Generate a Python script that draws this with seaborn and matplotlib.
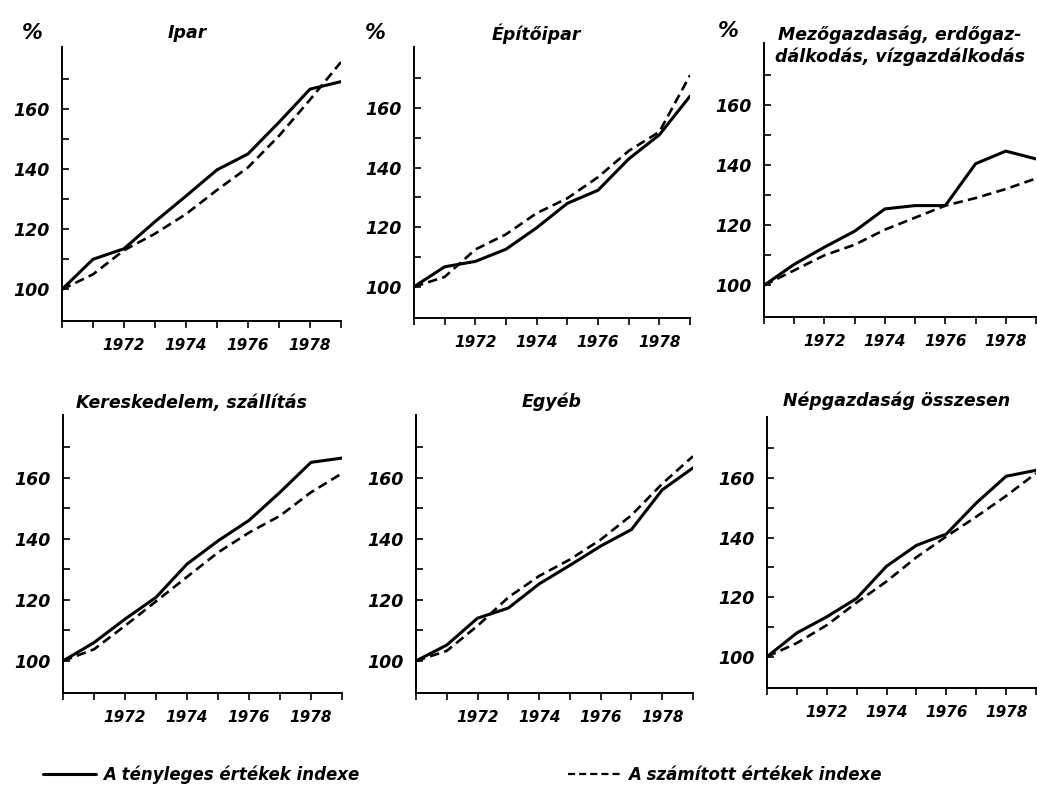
import matplotlib
matplotlib.use("Agg")
import matplotlib.pyplot as plt
from matplotlib.lines import Line2D
from matplotlib.ticker import MultipleLocator, FixedLocator
import seaborn as sns
import pandas as pd

years = [1970, 1971, 1972, 1973, 1974, 1975, 1976, 1977, 1978, 1979]

titles = ["Ipar", "Építőipar", "Mezőgazdaság, erdőgaz-\ndálkodás, vízgazdálkodás",
          "Kereskedelem, szállítás", "Egyéb", "Népgazdaság összesen"]

ipar_actual = [100, 110, 113.5, 122.5, 131, 139.7, 145, 155.5, 166.5, 169]
ipar_calc = [100, 105, 113, 118.5, 125, 133, 140.5, 151, 163, 175.5]

epito_actual = [100, 106.7, 108.5, 112.6, 119.8, 128, 132.4, 142.9, 151, 164]
epito_calc = [100, 103.3, 112.5, 117.6, 124.7, 129.7, 136.8, 145.6, 152, 171]

mezo_actual = [100, 107, 112.7, 118, 125.4, 126.5, 126.5, 140.4, 144.6, 142]
mezo_calc = [100, 105, 110, 113.5, 118.5, 122.5, 126.5, 129, 132, 135.5]

keres_actual = [100, 106, 113.7, 120.8, 131.7, 139.3, 146, 155.2, 165, 166.4]
keres_calc = [100, 103.8, 111.5, 119.5, 127.5, 135.5, 142, 147.5, 155.2, 161.4]

egyeb_actual = [100, 105.2, 114, 117.3, 125.2, 131.3, 137.6, 143, 156, 163.2]
egyeb_calc = [100, 103.3, 111.5, 120.8, 127.8, 133.2, 139.7, 147.7, 158, 167]

nepg_actual = [100, 108, 113.4, 119.6, 130.4, 137.4, 141.2, 151.6, 160.6, 162.6]
nepg_calc = [100, 104.6, 110.6, 118.2, 125.3, 133.4, 140.4, 147, 154, 161.6]

actual_series = [ipar_actual, epito_actual, mezo_actual, keres_actual, egyeb_actual, nepg_actual]
calc_series = [ipar_calc, epito_calc, mezo_calc, keres_calc, egyeb_calc, nepg_calc]

major_years = [1972, 1974, 1976, 1978]
ytick_labels = [100, 120, 140, 160]
yminor = [110, 130, 150, 170]

legend_labels = ["A tényleges értékek indexe", "A számított értékek indexe"]

sns.set_theme(style="ticks")
plt.rcParams["font.family"] = ["DejaVu Sans"]
plt.rcParams["font.style"] = "italic"
plt.rcParams["font.weight"] = "bold"
for k in ["text.color", "axes.edgecolor", "axes.labelcolor", "xtick.color", "ytick.color"]:
    plt.rcParams[k] = "black"

W, H = 1037, 786
fig = plt.figure(figsize=(W / 100, H / 100), dpi=100)
fig.patch.set_facecolor("white")

# pixel boxes: left, top, right, bottom
boxes = [(62, 47, 341, 321), (414, 47, 690, 318), (764, 43, 1036, 317),
         (63, 415, 342, 693), (416, 415, 693, 693), (767, 417, 1036, 688)]
title_pos = [(0.45, 1.05), (0.445, 1.05), (0.50, 0.99),
             (0.46, 1.043), (0.49, 1.047), (0.48, 1.06)]
pct_pos = [(-0.107, 1.05), (-0.14, 1.05), (-0.13, 1.045)]

dash_pattern = (3.6, 2.0)

for i, (l, t, r, b) in enumerate(boxes):
    ax = fig.add_axes([l / W, 1 - b / H, (r - l) / W, (b - t) / H])
    df = pd.DataFrame({"year": years, "actual": actual_series[i], "calc": calc_series[i]})
    sns.lineplot(data=df, x="year", y="actual", ax=ax, color="black", lw=2.2)
    sns.lineplot(data=df, x="year", y="calc", ax=ax, color="black", lw=1.9,
                 linestyle=(0, dash_pattern))
    ax.set_xlim(1970, 1979)
    ax.set_ylim(89.5, 180.5)
    ax.set_xlabel("")
    ax.set_ylabel("")
    sns.despine(ax=ax)
    ax.spines["left"].set_linewidth(1.4)
    ax.spines["bottom"].set_linewidth(1.4)
    ax.xaxis.set_major_locator(FixedLocator(major_years))
    ax.xaxis.set_minor_locator(MultipleLocator(1))
    ax.set_xticklabels([str(y) for y in major_years], fontsize=11, fontstyle="italic",
                       fontweight="bold")
    ax.yaxis.set_major_locator(FixedLocator(ytick_labels))
    ax.yaxis.set_minor_locator(FixedLocator(yminor))
    ax.set_yticklabels([str(v) for v in ytick_labels], fontsize=12.5, fontstyle="italic",
                       fontweight="bold")
    ax.tick_params(axis="x", which="both", direction="out", length=5, width=1.2, pad=7)
    ax.tick_params(axis="y", which="both", direction="in", length=5, width=1.2, pad=9)
    ax.set_facecolor("white")
    tx, ty = title_pos[i]
    ax.text(tx, ty, titles[i], transform=ax.transAxes, ha="center", va="center",
            fontsize=12.5, fontstyle="italic", fontweight="bold", linespacing=1.3)
    if i < 3:
        px, py = pct_pos[i]
        ax.text(px, py, "%", transform=ax.transAxes, ha="center", va="center",
                fontsize=15, fontstyle="italic", fontweight="bold")

h1 = Line2D([], [], color="black", lw=2.2)
h2 = Line2D([], [], color="black", lw=1.6, linestyle=(0, (3.2, 1.8)))
fig.legend([h1], [legend_labels[0]], loc="center left",
           bbox_to_anchor=(28 / W, 1 - 775 / H), frameon=False,
           handlelength=3.2, handletextpad=0.4,
           prop={"size": 12, "style": "italic", "weight": "bold"})
fig.legend([h2], [legend_labels[1]], loc="center left",
           bbox_to_anchor=(553 / W, 1 - 775 / H), frameon=False,
           handlelength=3.3, handletextpad=0.3,
           prop={"size": 12, "style": "italic", "weight": "bold"})

fig.savefig("out.png", dpi=100, facecolor="white")
